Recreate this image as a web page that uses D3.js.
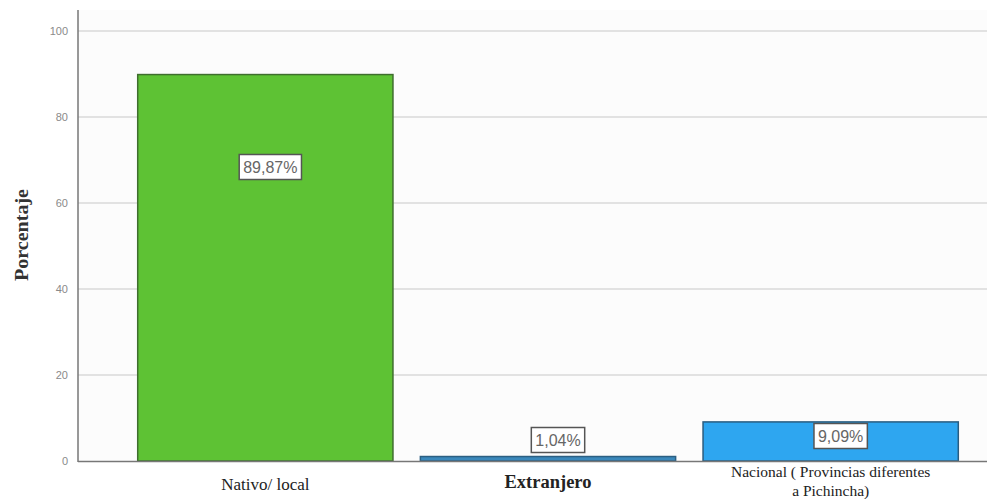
<!DOCTYPE html>
<html><head><meta charset="utf-8">
<script src="https://cdn.jsdelivr.net/npm/d3@7"></script>
<style>body{margin:0;background:#fff;}svg{display:block;}</style>
</head><body>
<svg id="c" width="987" height="499"></svg>
<script>
const categories = ["Nativo/ local", "Extranjero", "Nacional ( Provincias diferentes|a Pichincha)"];
const values = [89.87, 1.04, 9.09];
const valueLabels = ["89,87%", "1,04%", "9,09%"];
const yTicks = [0, 20, 40, 60, 80, 100];
const barColors = ["#5ec234", "#3a88bb", "#2ea6f0"];
const barStrokes = ["#3f6e2e", "#2c5f82", "#2a5d80"];

const svg = d3.select("#c");
const axisX = 78, plotRight = 987, plotTop = 10;
const y = d3.scaleLinear().domain([0, 100]).range([461, 31]);
const x = d3.scaleBand().domain(categories).range([124, 972]).paddingInner(0.097).paddingOuter(0.0485);

svg.append("rect").attr("x", axisX).attr("y", plotTop).attr("width", plotRight - axisX).attr("height", 461 - plotTop).attr("fill", "#fcfcfc");

// gridlines
svg.append("g").selectAll("line").data(yTicks.filter(d => d > 0)).join("line")
  .attr("x1", axisX).attr("x2", plotRight).attr("y1", d => y(d)).attr("y2", d => y(d))
  .attr("stroke", "#c8c8c8").attr("stroke-width", 1.2);

// y axis
const yAxis = d3.axisLeft(y).tickValues(yTicks).tickSize(0).tickPadding(10);
const gy = svg.append("g").attr("transform", `translate(${axisX},0)`).call(yAxis);
gy.select(".domain").remove();
gy.selectAll("text").attr("font-family", "Liberation Sans, Arial, sans-serif").attr("font-size", 11).attr("fill", "#8a8a8a");
svg.append("line").attr("x1", axisX).attr("x2", axisX).attr("y1", plotTop).attr("y2", 462).attr("stroke", "#777").attr("stroke-width", 1.5);

// bars
svg.append("g").selectAll("rect").data(values).join("rect")
  .attr("x", (d, i) => x(categories[i])).attr("width", x.bandwidth())
  .attr("y", d => y(d)).attr("height", d => y(0) - y(d))
  .attr("fill", (d, i) => barColors[i]).attr("stroke", (d, i) => barStrokes[i]).attr("stroke-width", 1.5);

// baseline
svg.append("line").attr("x1", axisX).attr("x2", plotRight).attr("y1", 461.5).attr("y2", 461.5).attr("stroke", "#777").attr("stroke-width", 1.5);

// value labels
const labelY = [167, 440, 436];
const labelDx = [5, 10, 10];
const lg = svg.append("g");
values.forEach((v, i) => {
  const cx = x(categories[i]) + x.bandwidth() / 2 + labelDx[i];
  const t = lg.append("text").attr("x", cx).attr("y", labelY[i] + 6).attr("text-anchor", "middle")
    .attr("font-family", "Liberation Sans Narrow, Liberation Sans, Arial, sans-serif")
    .attr("font-size", 16).attr("fill", "#666").text(valueLabels[i]);
  const bb = t.node().getBBox();
  lg.insert("rect", "text").attr("x", cx - bb.width / 2 - 4).attr("y", labelY[i] - 12.5).attr("width", bb.width + 8).attr("height", 25)
    .attr("fill", "#fff").attr("stroke", "#555").attr("stroke-width", 1.5);
});

// x labels
const xl = svg.append("g").attr("font-family", "Liberation Serif, Times New Roman, serif").attr("fill", "#222");
categories.forEach((c, i) => {
  const cx = x(c) + x.bandwidth() / 2;
  const lines = c.split("|");
  if (i === 1) {
    xl.append("text").attr("x", cx).attr("y", 488).attr("text-anchor", "middle").attr("font-size", 18.5).attr("font-weight", "bold").text(lines[0]);
  } else if (lines.length === 1) {
    xl.append("text").attr("x", cx).attr("y", 490).attr("text-anchor", "middle").attr("font-size", 17).text(lines[0]);
  } else {
    lines.forEach((l, k) => xl.append("text").attr("x", cx).attr("y", 477 + k * 19).attr("text-anchor", "middle").attr("font-size", 15.5).text(l));
  }
});

// y title
svg.append("text").attr("transform", "translate(28,235) rotate(-90)").attr("text-anchor", "middle")
  .attr("font-family", "Liberation Serif, Times New Roman, serif").attr("font-weight", "bold").attr("font-size", 19)
  .attr("textLength", 92).attr("lengthAdjust", "spacingAndGlyphs").attr("fill", "#333").text("Porcentaje");
</script>
</body></html>
